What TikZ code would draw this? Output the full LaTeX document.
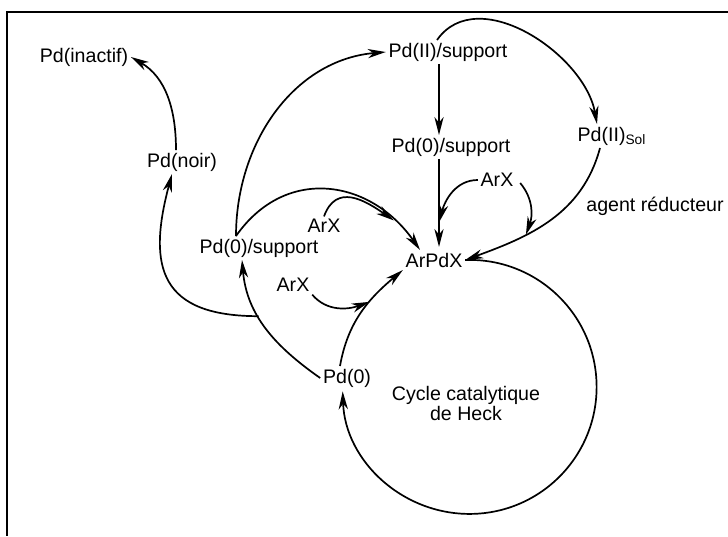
\documentclass[tikz,border=0pt]{standalone}
\usepackage{fontspec}
\setmainfont{Liberation Sans}
\usetikzlibrary{arrows.meta}

\begin{document}
\begin{tikzpicture}[x=0.5pt,y=0.5pt,line width=0.85pt,
    every node/.style={font=\fontsize{9.8}{10}\selectfont,inner sep=1pt},
    arr/.style={-{Stealth[length=9pt,width=4.6pt,inset=2.8pt]}}]
    \useasboundingbox (0,0) rectangle (728,-536);
    \draw[line width=1pt] (728,-12) -| (7,-536);

    \node (inact) at (84,-57) {Pd(inactif)};
    \node (noir) at (182,-162) {Pd(noir)};
    \node (p2s) at (448,-52) {Pd(II)/support};
    \node (p0s) at (451,-147) {Pd(0)/support};
    \node (p2sol) at (612,-136) {Pd(II)\textsubscript{Sol}};
    \node (arx1) at (497,-180) {ArX};
    \node (agent) at (655,-206) {agent réducteur};
    \node (arpdx) at (434,-260) {ArPdX};
    \node (p0sup) at (259,-248) {Pd(0)/support};
    \node (arx2) at (324,-226) {ArX};
    \node (arx3) at (293,-285) {ArX};
    \node (pd0) at (347,-378) {Pd(0)};
    \node[align=center] (heck) at (466,-403) {Cycle catalytique\\de Heck};

    \draw[arr] ([xshift=-4.5pt]p2s.south) -- ([xshift=-6pt]p0s.north);
    \draw[arr] ([xshift=-6pt]p0s.south) -- coordinate[pos=0.72] (j4) ([xshift=2.5pt,yshift=1.5pt]arpdx.north);
    \draw[arr] (arx1.west) to[out=180,in=75] (j4);
    \draw[arr] ([xshift=-5.5pt]p2s.north) to[out=55,in=100] ([xshift=-7.5pt]p2sol.north);
    \draw[arr] ([xshift=-6pt]p2sol.south) to[out=-105,in=20] coordinate[pos=0.66] (j5) (arpdx.east);
    \draw[arr] ([shift={(4,-3)}]arx1.east) to[out=-50,in=70] (j5);

    \draw[arr] (arpdx.east) arc[start angle=92,end angle=-178,radius=63.5pt];
    \draw[arr] ([xshift=-3.5pt]pd0.north) to[out=80,in=-140] coordinate[pos=0.62] (j3) (arpdx.south west);
    \draw[arr] (arx3.south east) to[out=-50,in=200] (j3);

    \draw[arr] ([xshift=-11.5pt]p0sup.north) to[out=55,in=125,looseness=1.2] coordinate[pos=0.84] (j2) ([xshift=-7pt]arpdx.north);
    \draw[arr] (arx2.north) to[out=70,in=145,looseness=1.3] (j2);
    \draw[arr] ([xshift=-11.5pt]p0sup.north) to[out=90,in=185] (p2s.west);
    \draw[arr] (pd0.west) to[out=145,in=-85] coordinate[pos=0.6] (j1) ([xshift=-8.5pt]p0sup.south);
    \draw[arr] (j1) to[out=180,in=-105,looseness=1.5] ([xshift=-5pt]noir.south);
    \draw[arr] ([xshift=-3pt]noir.north) to[out=90,in=-30] (inact.east);
\end{tikzpicture}
\end{document}
